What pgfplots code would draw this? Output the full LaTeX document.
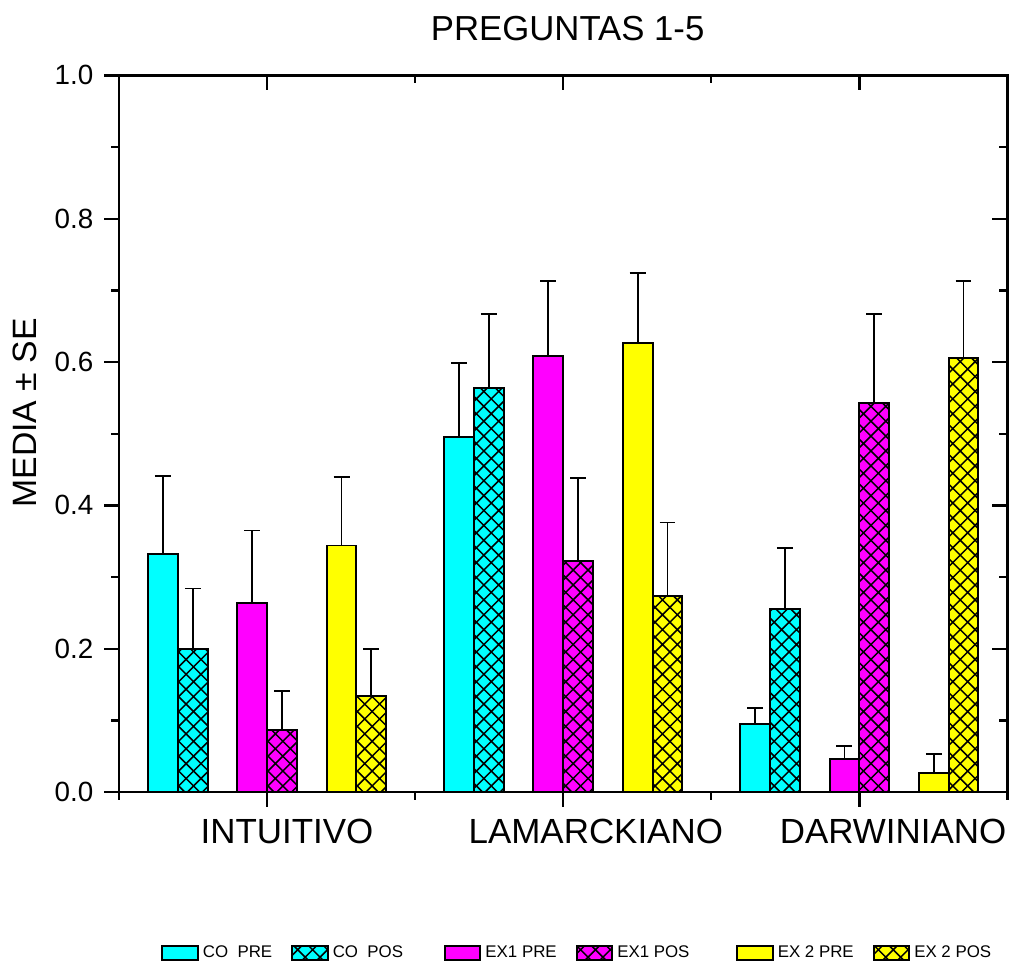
\documentclass[border=0pt]{standalone}
\usepackage{fontspec}
\setmainfont{Liberation Sans}
\usepackage{pgfplots}
\pgfplotsset{compat=1.18}
\usetikzlibrary{patterns}
\pgfdeclarepatternformonly{xhatch}{\pgfqpoint{-1pt}{-1pt}}{\pgfqpoint{8.5pt}{8.5pt}}{\pgfqpoint{7.5pt}{7.5pt}}{%
  \pgfsetlinewidth{0.75pt}%
  \pgfpathmoveto{\pgfqpoint{-0.2pt}{-0.2pt}}\pgfpathlineto{\pgfqpoint{7.7pt}{7.7pt}}%
  \pgfpathmoveto{\pgfqpoint{-0.2pt}{7.7pt}}\pgfpathlineto{\pgfqpoint{7.7pt}{-0.2pt}}%
  \pgfusepath{stroke}}
\definecolor{cco}{RGB}{0,255,255}
\definecolor{cex1}{RGB}{255,0,255}
\definecolor{cex2}{RGB}{255,255,0}
\pgfplotsset{
  mybar/.style={ybar, bar width=0.1006, bar shift=0pt, draw=black, line width=1pt,
    error bars/y dir=plus, error bars/y explicit,
    error bars/error bar style={line width=0.9pt, black},
    error bars/error mark options={rotate=90, line width=0.9pt, black, mark size=4pt},
    legend image code/.code={\draw[##1] (0pt,-3.5pt) rectangle (18pt,3.5pt);}},
  hatch/.style={postaction={pattern=xhatch}},
  frame/.style={scale only axis, width=447.5pt, height=361pt,
    at={(0,0)}, anchor=south west,
    xmin=0.5, xmax=3.5, ymin=0, ymax=1,
    axis line style={line width=1.3pt},
    every tick/.style={black, line width=1.2pt},
    major tick length=7.5pt, minor tick length=4pt,
    xtick={1,2,3}, minor xtick={0.5,1.5,2.5,3.5},
    ytick={0,0.2,0.4,0.6,0.8,1.0}, minor y tick num=1},
}
\begin{document}
\begin{tikzpicture}
\begin{axis}[frame,
  tick align=outside, xtick pos=left, ytick pos=left,
  xticklabels={},
  extra x ticks={1.067,2.11,3.114},
  extra x tick labels={INTUITIVO,LAMARCKIANO,DARWINIANO},
  extra x tick style={major tick length=0pt, tick style={draw=none},
    xticklabel style={font=\fontsize{17.6}{20}\selectfont, yshift=-10pt}},
  yticklabel style={font=\fontsize{14}{16}\selectfont, xshift=-2pt,
    /pgf/number format/fixed, /pgf/number format/fixed zerofill,
    /pgf/number format/precision=1, /pgf/number format/assume math mode=true},
  title={PREGUNTAS 1-5},
  title style={font=\fontsize{17.5}{20}\selectfont, at={(axis description cs:0.505,1.032)}, anchor=base},
  ylabel={MEDIA ± SE},
  ylabel style={font=\fontsize{17}{20}\selectfont, at={(axis description cs:-0.0927,0.529)}, anchor=base},
  legend columns=6,
  legend style={draw=none, fill=none, at={(axis description cs:0.0469,-0.225)}, anchor=west,
    font=\fontsize{8.5}{10}\selectfont, inner sep=0pt, column sep=0pt,
    /tikz/every even column/.append style={column sep=7.5pt}},
]
\addplot[mybar, fill=cco] coordinates {(0.648,0.332) +- (0,0.109) (1.648,0.496) +- (0,0.103) (2.648,0.095) +- (0,0.022)};
\addlegendentry{CO\ \ PRE}
\addplot[mybar, fill=cco, hatch] coordinates {(0.7486,0.200) +- (0,0.084) (1.7486,0.564) +- (0,0.103) (2.7486,0.256) +- (0,0.084)};
\addlegendentry{CO\ \ POS\rule{11pt}{0pt}}
\addplot[mybar, fill=cex1] coordinates {(0.9497,0.264) +- (0,0.101) (1.9497,0.609) +- (0,0.104) (2.9497,0.046) +- (0,0.018)};
\addlegendentry{EX1 PRE}
\addplot[mybar, fill=cex1, hatch] coordinates {(1.0503,0.087) +- (0,0.054) (2.0503,0.323) +- (0,0.115) (3.0503,0.543) +- (0,0.124)};
\addlegendentry{EX1 POS\rule{14pt}{0pt}}
\addplot[mybar, fill=cex2] coordinates {(1.2514,0.344) +- (0,0.096) (2.2514,0.627) +- (0,0.097) (3.2514,0.027) +- (0,0.026)};
\addlegendentry{EX 2 PRE}
\addplot[mybar, fill=cex2, hatch] coordinates {(1.352,0.134) +- (0,0.066) (2.352,0.274) +- (0,0.102) (3.352,0.606) +- (0,0.107)};
\addlegendentry{EX 2 POS}
\end{axis}
\begin{axis}[frame, tick align=inside, xtick pos=right, ytick pos=right,
  xticklabels={}, yticklabels={}]
\end{axis}
\path (-60pt,-83pt) rectangle (450.5pt,399pt);
\end{tikzpicture}
\end{document}
